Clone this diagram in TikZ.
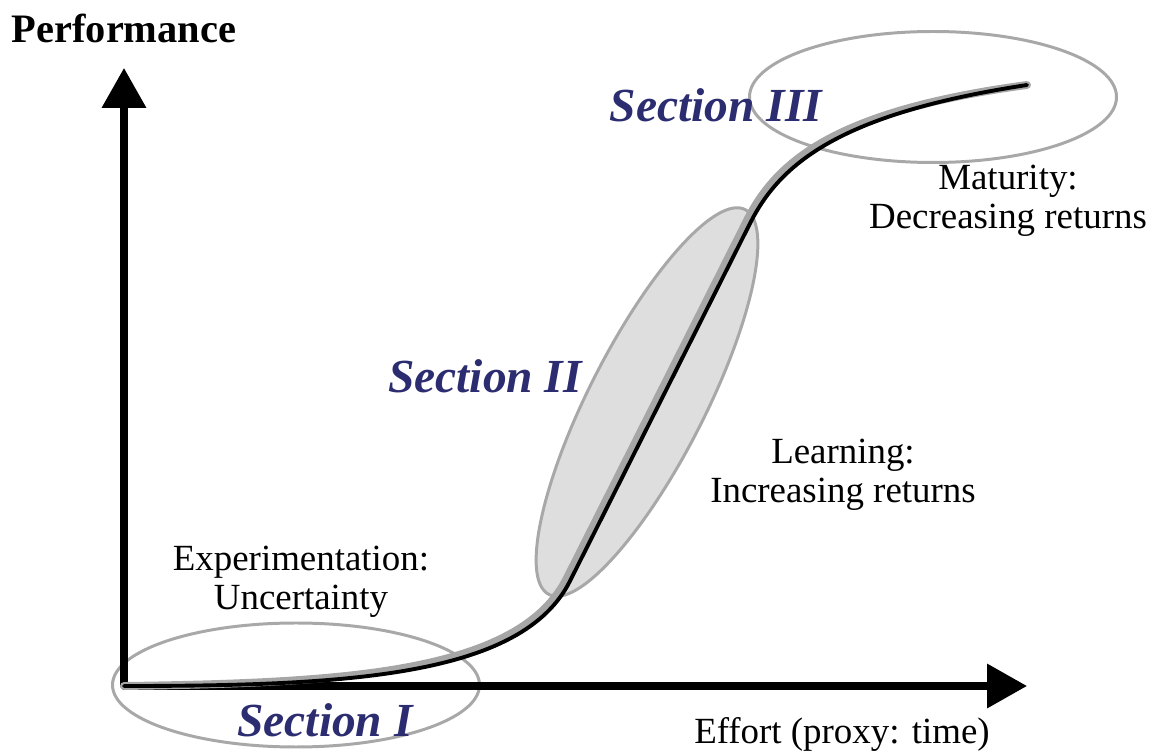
\documentclass[tikz,border=0pt]{standalone}
\usepackage{fontspec}
\setmainfont{Liberation Serif}
\usetikzlibrary{arrows.meta}
\definecolor{secblue}{RGB}{44,44,112}
\definecolor{ringgray}{RGB}{168,168,168}
\definecolor{leafgray}{RGB}{222,222,222}

\begin{document}
\begin{tikzpicture}[>={Triangle[length=0.8cm, width=0.86cm]}, line join=round, line cap=round,
	lbl/.style={font=\fontsize{21}{22}\selectfont, align=center},
	seclbl/.style={font=\fontsize{27}{28}\selectfont\bfseries\itshape, text=secblue},
	ring/.style={draw=ringgray, line width=1.7pt}]
	\useasboundingbox (0, 0) rectangle (23.08, 15.12);
	% phase rings
	\draw[ring] (5.92, 1.42) ellipse (3.67 and 1.24);
	\draw[ring, fill=leafgray, rotate around={63:(12.94, 7.08)}] (12.94, 7.08) ellipse (4.32 and 1.16);
	\draw[ring] (18.66, 13.18) ellipse (3.67 and 1.31);
	% axes
	\coordinate (O) at (2.48, 1.40);
	\coordinate (ytip) at (2.48, 13.76);
	\coordinate (xtip) at (20.54, 1.40);
	\coordinate (cend) at (20.54, 13.42);
	\draw[->, line width=4pt] (O) -- (ytip);
	\draw[->, line width=4pt] (O) -- (xtip);
	% s-curve, grey shadow first
	\foreach \c/\w/\dx/\dy in {black!35/4.5pt/-0.06/0.06, black/2.2pt/0/0}
		\draw[\c, line width=\w, xshift=\dx cm, yshift=\dy cm] (O)
			.. controls (7.0, 1.40) and (10.45, 1.60) .. (11.40, 3.50)
			-- (15.00, 10.65)
			.. controls (15.60, 11.85) and (16.80, 12.85) .. (cend);
	% labels
	\node[font=\fontsize{23}{24}\selectfont\bfseries] (perf) at (2.48, 14.56) {Performance};
	\node[lbl] (effort) at (16.84, 0.44) {Effort (proxy: time)};
	\node[lbl] (expt) at (6.02, 3.48) {Experimentation:\\Uncertainty};
	\node[lbl] (learn) at (16.86, 5.63) {Learning:\\Increasing returns};
	\node[lbl] (matur) at (20.16, 11.10) {Maturity:\\Decreasing returns};
	\node[seclbl] (sec1) at (6.50, 0.72) {Section I};
	\node[seclbl] (sec2) at (9.70, 7.60) {Section II};
	\node[seclbl] (sec3) at (14.32, 13.02) {Section III};
\end{tikzpicture}
\end{document}
